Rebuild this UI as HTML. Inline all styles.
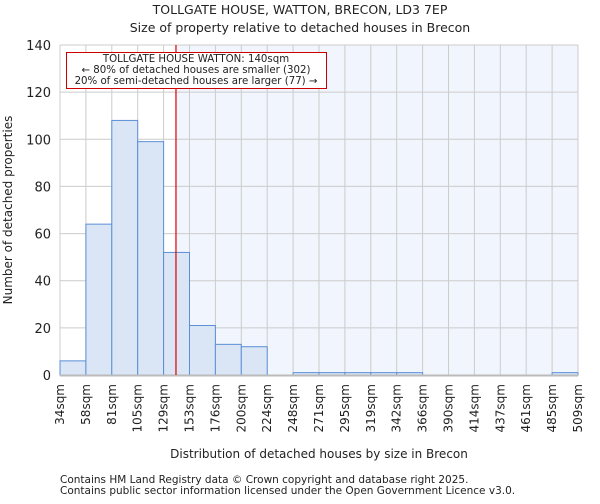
<!DOCTYPE html>
<html><head><meta charset="utf-8"><style>
body{margin:0;background:#fff;font-family:"DejaVu Sans","Liberation Sans",sans-serif}
svg text{font-family:"DejaVu Sans","Liberation Sans",sans-serif;fill:#222}
</style></head><body>
<svg id="chart" width="600" height="500" xmlns="http://www.w3.org/2000/svg">
<text x="300" y="14" text-anchor="middle" font-size="12.5">TOLLGATE HOUSE, WATTON, BRECON, LD3 7EP</text>
<text x="300" y="32" text-anchor="middle" font-size="12.5">Size of property relative to detached houses in Brecon</text>
<g id="plot"></g>
<text x="319" y="458" text-anchor="middle" font-size="12">Distribution of detached houses by size in Brecon</text>
<text transform="translate(12,210) rotate(-90)" text-anchor="middle" font-size="12">Number of detached properties</text>
<text x="60" y="483" font-size="10.5" fill="#444">Contains HM Land Registry data © Crown copyright and database right 2025.</text>
<text x="60" y="494" font-size="10.5" fill="#444">Contains public sector information licensed under the Open Government Licence v3.0.</text>
</svg>
<script>
const binLabels=["34sqm","58sqm","81sqm","105sqm","129sqm","153sqm","176sqm","200sqm","224sqm","248sqm","271sqm","295sqm","319sqm","342sqm","366sqm","390sqm","414sqm","437sqm","461sqm","485sqm","509sqm"];
const counts=[6,64,108,99,52,21,13,12,0,1,1,1,1,1,0,0,0,0,0,1];
const yTicks=[0,20,40,60,80,100,120,140];
const propertySize=140;
const binEdges=[34,58,81,105,129,153,176,200,224,248,271,295,319,342,366,390,414,437,461,485,509];
const X0=60,X1=578,Y0=375,Y1=45,YMAX=140;
const n=counts.length,bw=(X1-X0)/n;
const xIdx=i=>X0+i*bw;
const y=v=>Y0-(v/YMAX)*(Y0-Y1);
function valToX(v){for(let i=0;i<binEdges.length-1;i++){if(v>=binEdges[i]&&v<=binEdges[i+1])return xIdx(i+(v-binEdges[i])/(binEdges[i+1]-binEdges[i]));}return X1;}
const ns="http://www.w3.org/2000/svg",g=document.getElementById('plot');
function mk(t,a){const e=document.createElementNS(ns,t);for(const k in a)e.setAttribute(k,a[k]);g.appendChild(e);return e;}
const lx=valToX(propertySize);
let r=mk('rect',{x:lx,y:Y1,width:X1-lx,height:Y0-Y1,fill:'#f1f5fd'});


for(let i=0;i<=n;i++){let l=mk('line',{x1:xIdx(i),x2:xIdx(i),y1:Y1,y2:Y0,stroke:'#cccccc','stroke-width':1});

}
yTicks.forEach(t=>{let l=mk('line',{x1:X0,x2:X1,y1:y(t),y2:y(t),stroke:'#cccccc','stroke-width':1});


let tx=mk('text',{x:X0-9,y:y(t)+5,'text-anchor':'end','font-size':13});tx.textContent=t;

});
counts.forEach((c,i)=>{if(c<=0)return;let b=mk('rect',{x:xIdx(i),y:y(c),width:bw,height:Y0-y(c),fill:'#dae5f5',stroke:'#5b8fd8','stroke-width':1});

});
let ax=mk('line',{x1:X0,x2:X1,y1:Y0+0.5,y2:Y0+0.5,stroke:'#bbbbbb','stroke-width':2});


binLabels.forEach((s,i)=>{let tx=mk('text',{transform:`translate(${xIdx(i)+4},384) rotate(-90)`,'text-anchor':'end','font-size':12});tx.textContent=s;

});
let rl=mk('line',{x1:lx+0.5,x2:lx+0.5,y1:Y1,y2:Y0,stroke:'#dd0000','stroke-width':1.2});


let box=mk('rect',{x:66.5,y:52.5,width:260,height:36,fill:'#fff',stroke:'#cc0000','stroke-width':1});


["TOLLGATE HOUSE WATTON: 140sqm","← 80% of detached houses are smaller (302)","20% of semi-detached houses are larger (77) →"].forEach((s,i)=>{let tx=mk('text',{x:196,y:62+i*11,'text-anchor':'middle','font-size':10.2});tx.textContent=s;

});
</script>
</body></html>
